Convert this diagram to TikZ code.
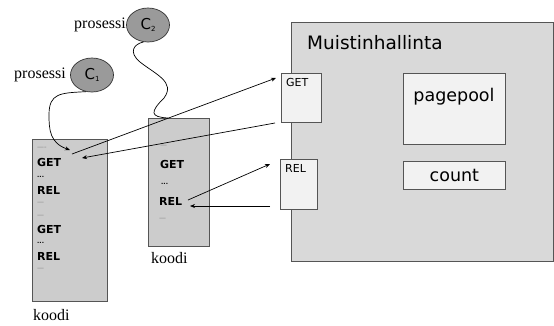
\documentclass[tikz,border=0pt]{standalone}
\usepackage{fontspec}
\setmainfont{Liberation Serif}
\setsansfont{DejaVu Sans}
\usetikzlibrary{shapes.geometric,arrows.meta}
\definecolor{membg}{HTML}{D9D9D9}
\definecolor{lightbox}{HTML}{F2F2F2}
\definecolor{codebg}{HTML}{CCCCCC}
\definecolor{procfill}{HTML}{9A9A9A}
\definecolor{edge}{HTML}{555555}
\tikzset{
  panel/.style={draw=edge, line width=0.8pt, inner sep=0pt},
  codebox/.style={panel, fill=codebg},
  lightrect/.style={panel, fill=lightbox},
  proc/.style={ellipse, draw=black!80, fill=procfill, line width=0.7pt, minimum width=43pt, minimum height=34pt, inner sep=0pt, font=\sffamily\fontsize{15}{15}\selectfont},
  lbl/.style={font=\fontsize{16}{16}\selectfont, inner sep=0pt},
  kw/.style={anchor=west, inner sep=0pt, font=\sffamily\bfseries\fontsize{11}{11}\selectfont},
  dots/.style={anchor=west, inner sep=0pt, font=\sffamily\bfseries\fontsize{6}{6}\selectfont},
  dashes/.style={anchor=west, inner sep=0pt, text=black!45, font=\sffamily\fontsize{7}{7}\selectfont},
  conn/.style={line width=0.7pt, -{Stealth[length=5pt,width=4pt]}},
  wire/.style={line width=0.7pt},
}
\begin{document}
\begin{tikzpicture}[x=1pt,y=-1pt]
\useasboundingbox (0,0) rectangle (554,325);

% memory manager
\node[panel, fill=membg, minimum width=262pt, minimum height=239pt, anchor=north west] (mem) at (291,22) {};
\node[anchor=west, inner sep=0pt, font=\sffamily\fontsize{18.5}{18.5}\selectfont] (memt) at (307,43) {Muistinhallinta};
\node[lightrect, minimum width=40pt, minimum height=49pt, anchor=north west] (get) at (281,73) {};
\node[anchor=north west, inner sep=0pt, font=\sffamily\fontsize{11}{11}\selectfont] (gett) at (286,78) {GET};
\node[lightrect, minimum width=37pt, minimum height=50pt, anchor=north west] (rel) at (280,159) {};
\node[anchor=north west, inner sep=0pt, font=\sffamily\fontsize{11}{11}\selectfont] (relt) at (285,164) {REL};
\node[lightrect, minimum width=102pt, minimum height=71pt, anchor=north west] (pool) at (403,73) {};
\node[inner sep=0pt, font=\sffamily\fontsize{17.5}{17.5}\selectfont] (poolt) at (454,97) {pagepool};
\node[lightrect, minimum width=102pt, minimum height=28pt, anchor=north west, font=\sffamily\fontsize{17.5}{17.5}\selectfont] (count) at (403,161) {count};

% code box 1
\node[codebox, minimum width=75pt, minimum height=162pt, anchor=north west] (code1) at (32,139) {};
\node[lbl, anchor=west] (k1) at (33,315) {koodi};
\node[dashes] (a1) at (37,148) {----};
\node[kw] (a2) at (37,162) {GET};
\node[dots] (a3) at (37,177) {...};
\node[kw] (a4) at (37,190) {REL};
\node[dashes] (a5) at (37,203) {---};
\node[dashes] (a6) at (37,216) {---};
\node[kw] (a7) at (37,229) {GET};
\node[dots] (a8) at (37,243) {...};
\node[kw] (a9) at (37,256) {REL};
\node[dashes] (a10) at (37,269) {---};

% code box 2
\node[codebox, minimum width=61pt, minimum height=128pt, anchor=north west] (code2) at (148,118) {};
\node[lbl, anchor=west] (k2) at (151,258) {koodi};
\node[dashes] (b1) at (160,146) {---};
\node[kw] (b2) at (160,164) {GET};
\node[dots] (b3) at (161,184) {...};
\node[kw] (b4) at (159,201) {REL};
\node[dashes] (b5) at (159,219) {---};

% processes
\node[proc] (c1) at (92,75) {C\raisebox{-0.25ex}{\fontsize{7}{7}\selectfont 1}};
\node[lbl, anchor=east] (p1) at (66,75) {prosessi};
\node[proc] (c2) at (148,25) {C\raisebox{-0.25ex}{\fontsize{7}{7}\selectfont 2}};
\node[lbl, anchor=east] (p2) at (126,25) {prosessi};

% process threads
\coordinate (c1e) at (70,150);
\draw[wire, -{Stealth[length=5pt,width=4pt]}] (c1.-110) .. controls (60,93) and (49,93) .. (49,115)
  .. controls (49,130) and (50,143) .. (c1e);
\coordinate (c2e) at (168,118);
\draw[wire] (c2.-105) .. controls (134,44) and (128,52) .. (140,62)
  .. controls (155,74) and (176,82) .. (164,98)
  .. controls (150,112) and (150,117) .. (c2e);

% calls
\coordinate (s1) at (72,154);
\coordinate (t1) at (276,78);
\draw[conn] (s1) -- (t1);
\coordinate (s2) at (275,123);
\coordinate (t2) at (82,158);
\draw[conn] (s2) -- (t2);
\coordinate (s3) at (188,200);
\coordinate (t3) at (270,164);
\draw[conn] (s3) -- (t3);
\coordinate (s4) at (270,206);
\coordinate (t4) at (190,206);
\draw[conn] (s4) -- (t4);
\end{tikzpicture}
\end{document}
